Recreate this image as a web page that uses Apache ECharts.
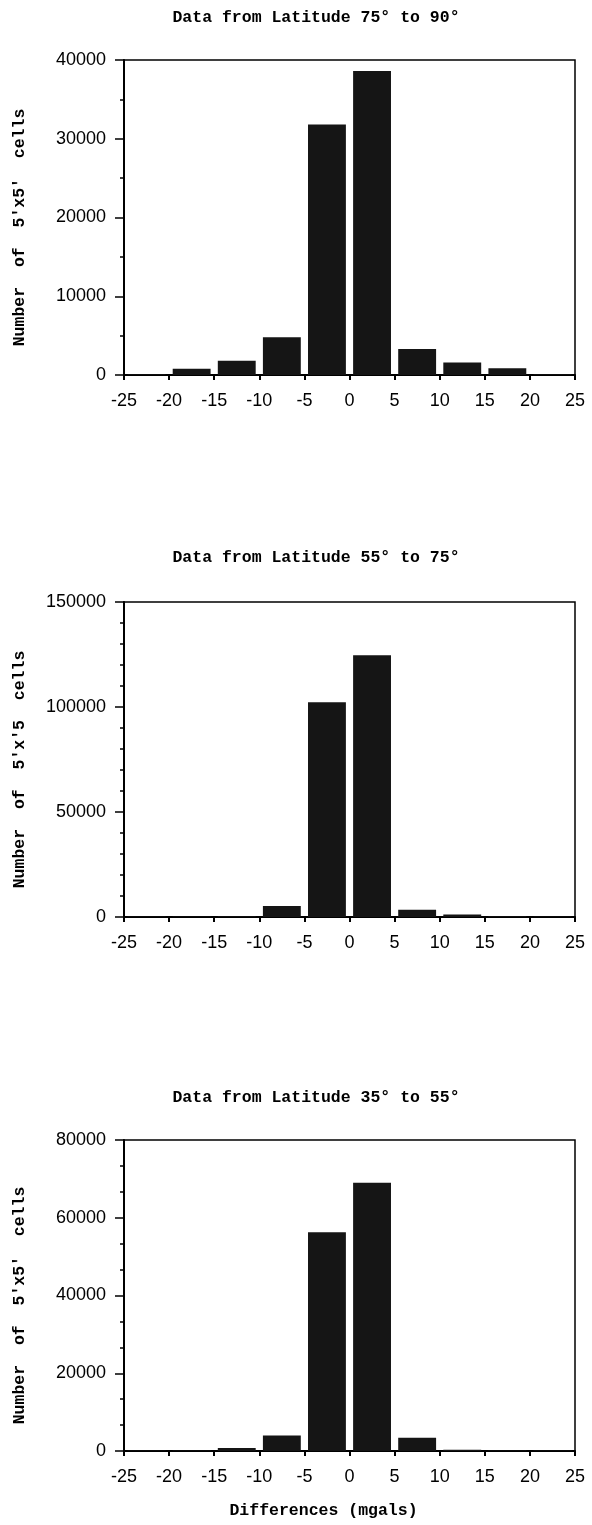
<!DOCTYPE html>
<html>
<head>
<meta charset="utf-8">
<script src="https://cdn.jsdelivr.net/npm/echarts@6/dist/echarts.min.js"></script>
<style>html,body{margin:0;padding:0;background:#fff}#c{width:592px;height:1525px}</style>
</head>
<body>
<div id="c"></div>
<script>
// Bin centres (bins of width 5 mgal from -25 to 25)
const binCentres = [-22.5, -17.5, -12.5, -7.5, -2.5, 2.5, 7.5, 12.5, 17.5, 22.5];
const xTicks = { min: -25, max: 25, interval: 5 };

const titles = [
  'Data from Latitude 75° to 90°',
  'Data from Latitude 55° to 75°',
  'Data from Latitude 35° to 55°'
];
const yNames = [
  "Number  of  5'x5'  cells",
  "Number  of  5'x'5  cells",
  "Number  of  5'x5'  cells"
];
const xName = 'Differences (mgals)';

const counts75to90 = [100, 800, 1800, 4800, 31800, 38600, 3300, 1600, 850, 100];
const counts55to75 = [200, 200, 300, 5200, 102300, 124700, 3500, 1200, 300, 200];
const counts35to55 = [100, 100, 800, 4000, 56300, 69000, 3400, 300, 100, 100];

const yMax = [40000, 150000, 80000];
const yInterval = [10000, 50000, 20000];
const yMinorSplit = [2, 5, 3];

const allCounts = [counts75to90, counts55to75, counts35to55];

const gridTops = [60, 602, 1140];
const gridHeights = [315, 315, 311];
const titleY = [18, 558, 1098];

const mono = '"Liberation Mono", "DejaVu Sans Mono", monospace';
const sans = '"Liberation Sans", Arial, sans-serif';

const grids = [], xAxes = [], yAxes = [], series = [], titleOpts = [];
for (let i = 0; i < 3; i++) {
  grids.push({
    left: 124, width: 451, top: gridTops[i], height: gridHeights[i],
    show: true, borderColor: '#000', borderWidth: 1.5, backgroundColor: 'transparent'
  });
  titleOpts.push({
    text: titles[i], left: 316, top: titleY[i] - 9, textAlign: 'center', padding: 0,
    textStyle: { fontFamily: mono, fontWeight: 'bold', fontSize: 16.5, color: '#000' }
  });
  xAxes.push({
    type: 'value', gridIndex: i, min: xTicks.min, max: xTicks.max, interval: xTicks.interval,
    splitLine: { show: false },
    axisLine: { onZero: false, lineStyle: { color: '#000', width: 2 } },
    axisTick: { show: true, length: 5, lineStyle: { color: '#000', width: 2 } },
    axisLabel: { color: '#000', fontFamily: sans, fontSize: 18, margin: 17 },
    name: i === 2 ? xName : '',
    nameLocation: 'middle', nameGap: 51,
    nameTextStyle: { fontFamily: mono, fontWeight: 'bold', fontSize: 16.5, color: '#000', padding: [0, 52, 0, 0] }
  });
  yAxes.push({
    type: 'value', gridIndex: i, min: 0, max: yMax[i], interval: yInterval[i],
    splitLine: { show: false },
    axisLine: { show: true, onZero: false, lineStyle: { color: '#000', width: 2 } },
    axisTick: { show: true, length: 9, lineStyle: { color: '#000', width: 1.5 } },
    minorTick: { show: true, splitNumber: yMinorSplit[i], length: 4, lineStyle: { color: '#000', width: 1.5 } },
    axisLabel: { color: '#000', fontFamily: sans, fontSize: 18, margin: 18, formatter: v => String(v) },
    name: yNames[i], nameLocation: 'middle', nameRotate: 90, nameGap: 96,
    nameTextStyle: { fontFamily: mono, fontWeight: 'bold', fontSize: 16.5, color: '#000', padding: [0, 20, 0, 0] }
  });
  series.push({
    type: 'bar', xAxisIndex: i, yAxisIndex: i,
    data: binCentres.map((c, k) => [c, allCounts[i][k]]),
    barWidth: '84%',
    itemStyle: { color: '#151515' },
    silent: true
  });
}

const chart = echarts.init(document.getElementById('c'), null, { renderer: 'canvas' });
chart.setOption({
  animation: false,
  backgroundColor: '#fff',
  title: titleOpts,
  grid: grids,
  xAxis: xAxes,
  yAxis: yAxes,
  series: series
});
</script>
</body>
</html>
